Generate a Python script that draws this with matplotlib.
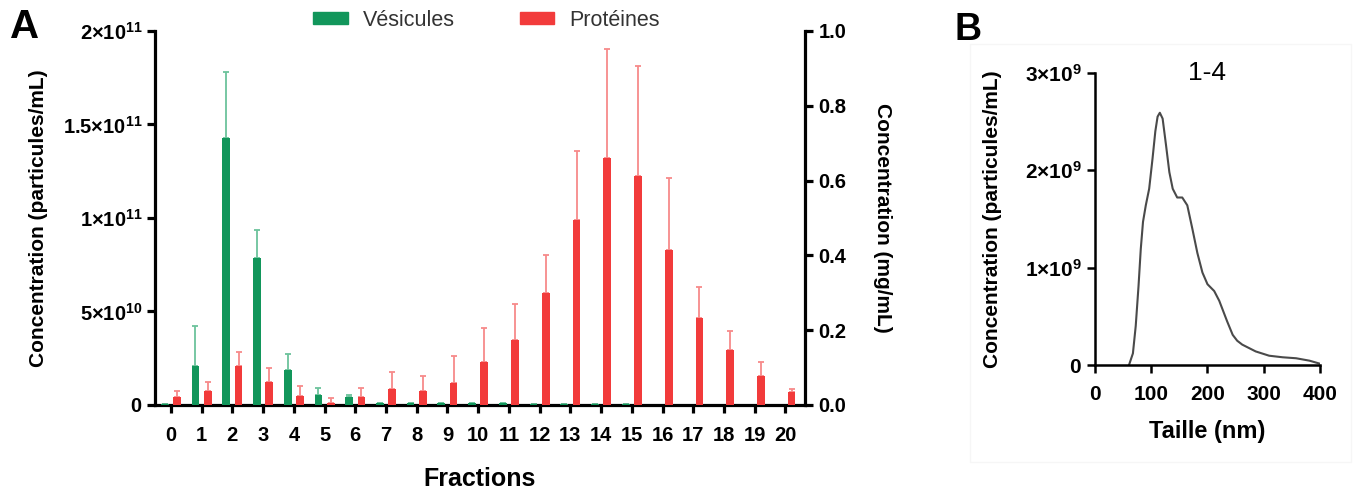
import numpy as np
import matplotlib
matplotlib.use('Agg')
import matplotlib.pyplot as plt
from matplotlib.patches import Patch, Rectangle
from matplotlib.ticker import FixedLocator, FixedFormatter

plt.rcParams['font.family'] = ['Liberation Sans', 'DejaVu Sans']
plt.rcParams['mathtext.fontset'] = 'custom'
plt.rcParams['mathtext.rm'] = 'Liberation Sans'
plt.rcParams['mathtext.bf'] = 'Liberation Sans:bold'

# Panel A data
fractions = list(range(21))
vesicules = np.array([0.003, 0.21, 1.43, 0.785, 0.185, 0.055, 0.04, 0.01, 0.012, 0.01, 0.01,
                      0.008, 0.004, 0.004, 0.003, 0.003, 0.002, 0.002, 0.002, 0.002, 0.002]) * 1e11
vesicules_err = np.array([0.0, 0.21, 0.35, 0.15, 0.09, 0.033, 0.015, 0.0, 0.0, 0.0, 0.0,
                          0.0, 0.0, 0.0, 0.0, 0.0, 0.0, 0.0, 0.0, 0.0, 0.0]) * 1e11
proteines = [0.02, 0.038, 0.104, 0.062, 0.024, 0.006, 0.02, 0.042, 0.038, 0.058, 0.116,
             0.174, 0.299, 0.495, 0.66, 0.613, 0.413, 0.232, 0.147, 0.078, 0.034]
proteines_err = [0.018, 0.022, 0.037, 0.038, 0.027, 0.012, 0.026, 0.045, 0.038, 0.074, 0.091,
                 0.096, 0.102, 0.184, 0.292, 0.293, 0.193, 0.083, 0.051, 0.038, 0.008]
left_ticks = [0, 0.5e11, 1e11, 1.5e11, 2e11]
left_labels = [r'$\mathbf{0}$', r'$\mathbf{5{\times}10^{10}}$', r'$\mathbf{1{\times}10^{11}}$',
               r'$\mathbf{1.5{\times}10^{11}}$', r'$\mathbf{2{\times}10^{11}}$']
right_ticks = [0.0, 0.2, 0.4, 0.6, 0.8, 1.0]

# Panel B data (size distribution, fractions 1-4)
taille = [60, 67, 72, 77, 81, 85, 90, 96, 102, 107, 111, 115, 120, 126, 132, 138, 146, 155,
          164, 173, 182, 191, 200, 212, 221, 227, 235, 245, 253, 262, 286, 310, 334, 358,
          382, 397, 400]
conc_b = np.array([0.0, 0.12, 0.40, 0.81, 1.19, 1.47, 1.64, 1.81, 2.12, 2.40, 2.55, 2.59,
                   2.53, 2.26, 1.98, 1.81, 1.72, 1.72, 1.64, 1.40, 1.15, 0.95, 0.83, 0.76,
                   0.66, 0.57, 0.45, 0.31, 0.25, 0.21, 0.14, 0.096, 0.08, 0.07, 0.045, 0.02,
                   0.015]) * 1e9
b_ticks = [0, 1e9, 2e9, 3e9]
b_labels = [r'$\mathbf{0}$', r'$\mathbf{1{\times}10^{9}}$', r'$\mathbf{2{\times}10^{9}}$',
            r'$\mathbf{3{\times}10^{9}}$']

green = '#12965b'
red = '#f23b3b'

fig = plt.figure(figsize=(13.59, 4.92), dpi=100)

# ---------- Panel A ----------
ax = fig.add_axes([0.114, 0.177, 0.478, 0.76])
ax2 = ax.twinx()
x = np.arange(len(fractions))
w = 0.25
ax.bar(x - 0.2, vesicules, width=w, color=green, zorder=3)
ax.errorbar(x - 0.2, vesicules, yerr=[np.zeros(len(x)), vesicules_err], fmt='none',
            ecolor='#6cc39c', elinewidth=1.3, capsize=2, capthick=1.3, zorder=2)
ax2.bar(x + 0.2, proteines, width=w, color=red, zorder=3)
ax2.errorbar(x + 0.2, proteines, yerr=[np.zeros(len(x)), proteines_err], fmt='none',
             ecolor='#f78a8a', elinewidth=1.3, capsize=2, capthick=1.3, zorder=2)

ax.set_xlim(-0.52, 20.62)
ax.set_ylim(0, 2e11)
ax2.set_ylim(0, 1.0)
ax.yaxis.set_major_locator(FixedLocator(left_ticks))
ax.yaxis.set_major_formatter(FixedFormatter(left_labels))
ax2.set_yticks(right_ticks)
ax2.set_yticklabels([f'{t:.1f}' for t in right_ticks])
ax.set_xticks(x)
ax.set_xticklabels([str(f) for f in fractions])

for a in (ax, ax2):
    a.spines['top'].set_visible(False)
    for s in a.spines.values():
        s.set_linewidth(2.3)
ax.spines['right'].set_visible(False)
ax2.spines['left'].set_visible(False)
ax2.spines['bottom'].set_visible(False)
ax.tick_params(axis='y', width=2.3, length=6, labelsize=14.5, pad=3)
ax.tick_params(axis='x', width=2.3, length=6, labelsize=14.5, pad=9)
ax2.tick_params(axis='y', width=2.3, length=6, labelsize=14.5, pad=4)
for lab in ax.get_xticklabels() + ax2.get_yticklabels():
    lab.set_fontweight('bold')

ax.set_ylabel('Concentration (particules/mL)', fontsize=15, fontweight='bold', labelpad=11)
ax2.set_ylabel('Concentration (mg/mL)', fontsize=15, fontweight='bold', rotation=270, labelpad=33)
ax.set_xlabel('Fractions', fontsize=18, fontweight='bold', labelpad=16)

handles = [Patch(color=green), Patch(color=red)]
fig.legend(handles, ['Vésicules', 'Protéines'], loc='center', ncol=2, frameon=False,
           bbox_to_anchor=(0.358, 0.959), fontsize=15.5, handlelength=1.6, handleheight=0.5,
           columnspacing=3.0, handletextpad=0.7, labelcolor='#333333')

fig.text(0.007, 0.923, 'A', fontsize=29, fontweight='bold')

# ---------- Panel B ----------
fig.patches.append(Rectangle((0.714, 0.06), 0.28, 0.85, transform=fig.transFigure,
                             fill=False, edgecolor='#f6f6f6', linewidth=1))
bx = fig.add_axes([0.806, 0.258, 0.165, 0.594])
bx.plot(taille, conc_b, color='#4a4a4a', linewidth=1.5)
bx.set_xlim(0, 400)
bx.set_ylim(0, 3e9)
bx.set_xticks([0, 100, 200, 300, 400])
bx.yaxis.set_major_locator(FixedLocator(b_ticks))
bx.yaxis.set_major_formatter(FixedFormatter(b_labels))
bx.spines['top'].set_visible(False)
bx.spines['right'].set_visible(False)
for s in bx.spines.values():
    s.set_linewidth(1.8)
bx.tick_params(axis='both', width=1.8, length=6, labelsize=15)
bx.tick_params(axis='x', pad=8)
for lab in bx.get_xticklabels():
    lab.set_fontweight('bold')
bx.set_ylabel('Concentration (particules/mL)', fontsize=15, fontweight='bold', labelpad=17)
bx.set_xlabel('Taille (nm)', fontsize=17, fontweight='bold', labelpad=12)
bx.text(0.5, 1.0, '1-4', transform=bx.transAxes, ha='center', va='center', fontsize=19)
fig.text(0.702, 0.919, 'B', fontsize=27, fontweight='bold')

fig.savefig('out.png', dpi=100)
